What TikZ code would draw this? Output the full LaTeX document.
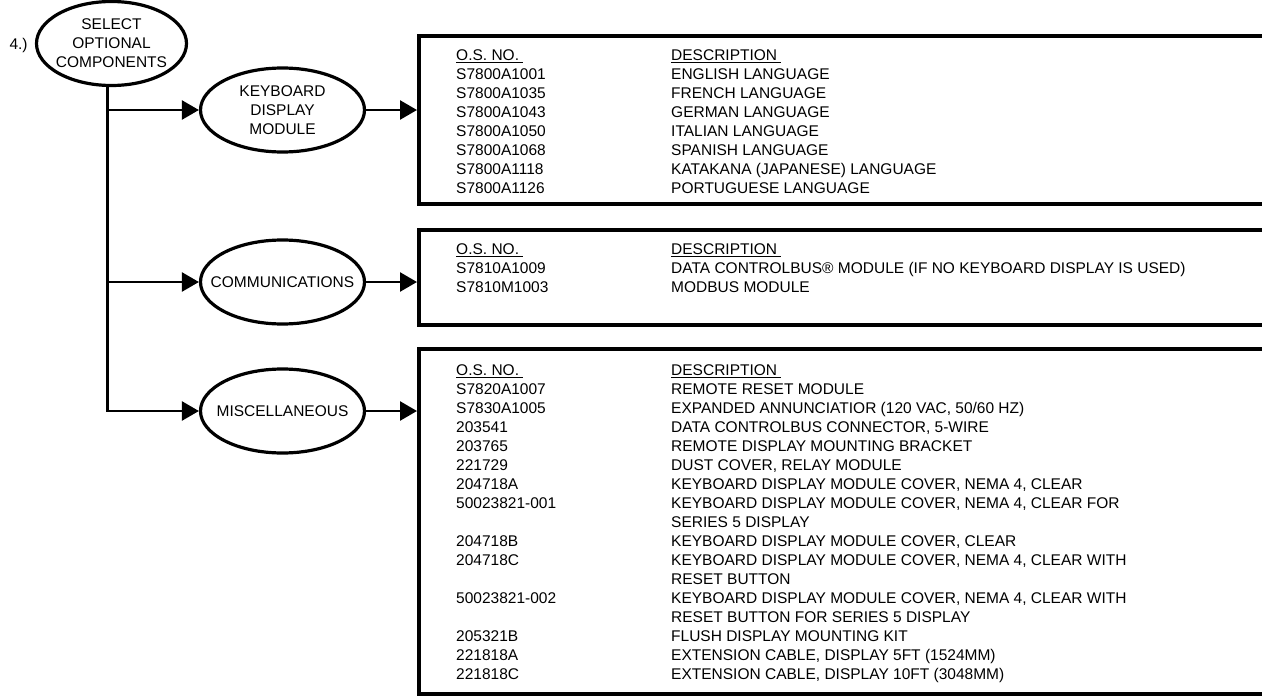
\documentclass[tikz,border=0pt]{standalone}
\usepackage{fontspec}
\setmainfont{Liberation Sans}
\usetikzlibrary{shapes.geometric,arrows.meta}

\newcommand\ulhead[1]{\underline{#1\ }}

\begin{document}
\begin{tikzpicture}[x=1pt, y=-1pt,
  every node/.style={font=\fontsize{15.5}{19}\selectfont},
  choice/.style={ellipse, draw, line width=3.2pt, inner xsep=-20pt, inner ysep=0pt,
    minimum width=164pt, minimum height=84pt, align=center},
  wire/.style={line width=2.5pt},
  arr/.style={wire, -{Triangle[length=17pt,width=19pt]}},
  frame/.style={line width=4pt},
  tbl/.style={anchor=base west, inner sep=0pt}]
\useasboundingbox (0,0) rectangle (1262,696);
% step 4 header
\node[choice, minimum width=150pt] (sel) at (111.5,43.5) {SELECT\\OPTIONAL\\COMPONENTS};
\node[anchor=west] (stepno) at (6,45) {4.)};
% component groups
\node[choice] (kbd) at (282.5,110) {KEYBOARD\\DISPLAY\\MODULE};
\node[choice] (com) at (282.5,282) {COMMUNICATIONS};
\node[choice] (misc) at (282.5,411) {MISCELLANEOUS};
% trunk with branches
\coordinate (trunk) at ([xshift=-4pt]sel.south);
\draw[arr] (trunk) |- (misc);
\foreach \n in {kbd,com} \draw[arr] (\n -| trunk) -- (\n);
% list frames, open on the right
\draw[frame] (1264,36) -| (419,204) -- (1264,204);
\draw[frame] (1264,230) -| (419,325) -- (1264,325);
\draw[frame] (1264,349) -| (419,694) -- (1264,694);
\coordinate (kbdin) at (417,110);
\coordinate (comin) at (417,282);
\coordinate (miscin) at (417,411);
\draw[arr] (kbd) -- (kbdin);
\draw[arr] (com) -- (comin);
\draw[arr] (misc) -- (miscin);
% keyboard display modules
\node[tbl] (kbdlist) at (456,60.5) {\begin{tabular}[t]{@{}p{215pt}@{}l@{}}
\ulhead{O.S. NO.} & \ulhead{DESCRIPTION}\\
S7800A1001 & ENGLISH LANGUAGE\\
S7800A1035 & FRENCH LANGUAGE\\
S7800A1043 & GERMAN LANGUAGE\\
S7800A1050 & ITALIAN LANGUAGE\\
S7800A1068 & SPANISH LANGUAGE\\
S7800A1118 & KATAKANA (JAPANESE) LANGUAGE\\
S7800A1126 & PORTUGUESE LANGUAGE
\end{tabular}};
% communications
\node[tbl] (comlist) at (456,254.5) {\begin{tabular}[t]{@{}p{215pt}@{}l@{}}
\ulhead{O.S. NO.} & \ulhead{DESCRIPTION}\\
S7810A1009 & DATA CONTROLBUS® MODULE (IF NO KEYBOARD DISPLAY IS USED)\\
S7810M1003 & MODBUS MODULE
\end{tabular}};
% miscellaneous
\node[tbl] (misclist) at (456,375.5) {\begin{tabular}[t]{@{}p{215pt}@{}l@{}}
\ulhead{O.S. NO.} & \ulhead{DESCRIPTION}\\
S7820A1007 & REMOTE RESET MODULE\\
S7830A1005 & EXPANDED ANNUNCIATIOR (120 VAC, 50/60 HZ)\\
203541 & DATA CONTROLBUS CONNECTOR, 5-WIRE\\
203765 & REMOTE DISPLAY MOUNTING BRACKET\\
221729 & DUST COVER, RELAY MODULE\\
204718A & KEYBOARD DISPLAY MODULE COVER, NEMA 4, CLEAR\\
50023821-001 & KEYBOARD DISPLAY MODULE COVER, NEMA 4, CLEAR FOR\\
 & SERIES 5 DISPLAY\\
204718B & KEYBOARD DISPLAY MODULE COVER, CLEAR\\
204718C & KEYBOARD DISPLAY MODULE COVER, NEMA 4, CLEAR WITH\\
 & RESET BUTTON\\
50023821-002 & KEYBOARD DISPLAY MODULE COVER, NEMA 4, CLEAR WITH\\
 & RESET BUTTON FOR SERIES 5 DISPLAY\\
205321B & FLUSH DISPLAY MOUNTING KIT\\
221818A & EXTENSION CABLE, DISPLAY 5FT (1524MM)\\
221818C & EXTENSION CABLE, DISPLAY 10FT (3048MM)
\end{tabular}};
\end{tikzpicture}
\end{document}
